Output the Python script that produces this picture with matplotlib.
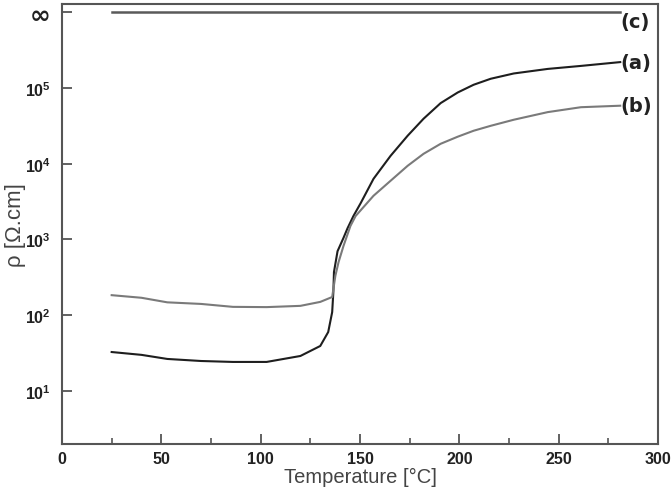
import numpy as np
import matplotlib
matplotlib.use("Agg")
import matplotlib.pyplot as plt
from matplotlib.ticker import FixedLocator, MultipleLocator, NullLocator

plt.rcParams['font.family'] = ['Liberation Sans', 'DejaVu Sans']
plt.rcParams['mathtext.fontset'] = 'custom'
plt.rcParams['mathtext.rm'] = 'Liberation Sans'
plt.rcParams['mathtext.bf'] = 'Liberation Sans:bold'

# curve (a)
temp_a = [25, 40, 53, 70, 86, 103, 120, 130, 134, 136, 136.6, 136.9, 138.7,
          141.7, 143.7, 146.7, 150.3, 156.8, 165.4, 174, 182, 190.6, 199.2,
          207.2, 215.8, 227.4, 244.5, 261.2, 281]
rho_a = [32.7, 30, 26.5, 24.9, 24.2, 24.2, 29, 39.3, 60, 110, 204, 372, 700,
         1050, 1400, 2040, 3000, 6310, 12700, 23400, 39200, 63000, 87000,
         110000, 132000, 155000, 178000, 195000, 219000]

# curve (b)
temp_b = [25, 40, 53, 70, 86, 103, 120, 130, 136, 137.6, 139.2, 141.7, 145.2,
          147.8, 156.8, 165.4, 174, 182, 190.6, 199.2, 207.2, 215.8, 227.4,
          244.5, 261.2, 281]
rho_b = [184, 170, 148, 141, 129, 128, 133, 150, 174, 331, 501, 822, 1510,
         2040, 3770, 5950, 9380, 13500, 18300, 22700, 27200, 31600, 38000,
         47900, 55600, 58200]

# curve (c): infinite resistivity, drawn on the top row
temp_c = [25, 281]
rho_c = [1e6, 1e6]

y_ticks = [1e1, 1e2, 1e3, 1e4, 1e5, 1e6]
y_ticklabels = [r'$\mathbf{10^{1}}$', r'$\mathbf{10^{2}}$', r'$\mathbf{10^{3}}$',
                r'$\mathbf{10^{4}}$', r'$\mathbf{10^{5}}$', '∞']
x_ticks = [0, 50, 100, 150, 200, 250, 300]

fig = plt.figure(figsize=(6.71, 4.89), dpi=100)
ax = fig.add_axes([0.0924, 0.09, 0.8882, 0.8998])

ax.plot(temp_a, rho_a, color='#1e1e1e', lw=1.5)
ax.plot(temp_b, rho_b, color='#7a7a7a', lw=1.5)
ax.plot(temp_c, rho_c, color='#5a5a5a', lw=1.8)

ax.set_yscale('log')
ax.set_xlim(0, 300)
ax.set_ylim(2.0, 1.28e6)

ax.xaxis.set_major_locator(FixedLocator(x_ticks))
ax.xaxis.set_minor_locator(MultipleLocator(25))
ax.yaxis.set_major_locator(FixedLocator(y_ticks))
ax.yaxis.set_minor_locator(NullLocator())

ax.tick_params(axis='both', which='major', direction='in', length=7, width=1.3,
               color='#555555', labelsize=11.5)
ax.tick_params(axis='x', which='major', pad=5)
ax.tick_params(axis='y', which='major', pad=8)
ax.tick_params(axis='x', which='minor', direction='in', length=4, width=1.2,
               color='#555555')

ax.set_xticklabels([str(t) for t in x_ticks], fontweight='bold', color='#222222')
ax.set_yticklabels(y_ticklabels, fontweight='bold', color='#222222')
inf_lab = ax.get_yticklabels()[-1]
inf_lab.set_fontsize(18)
inf_lab.set_family('DejaVu Sans')

for sp in ax.spines.values():
    sp.set_color('#555555')
    sp.set_linewidth(1.5)

ax.set_xlabel('Temperature [°C]', fontsize=14.5, color='#444444', labelpad=1)
ax.set_ylabel('ρ [Ω.cm]', fontsize=16, color='#444444')
ax.yaxis.set_label_coords(-0.06, 0.5)

lab_kw = dict(fontsize=14, fontweight='bold', color='#222222',
              family='DejaVu Sans', textcoords='offset points',
              ha='left', va='center')
ax.annotate('(c)', (temp_c[-1], rho_c[-1]), xytext=(0, -7), **lab_kw)
ax.annotate('(a)', (temp_a[-1], rho_a[-1]), xytext=(0, 0), **lab_kw)
ax.annotate('(b)', (temp_b[-1], rho_b[-1]), xytext=(0, 0), **lab_kw)

fig.savefig('out.png', dpi=100)
